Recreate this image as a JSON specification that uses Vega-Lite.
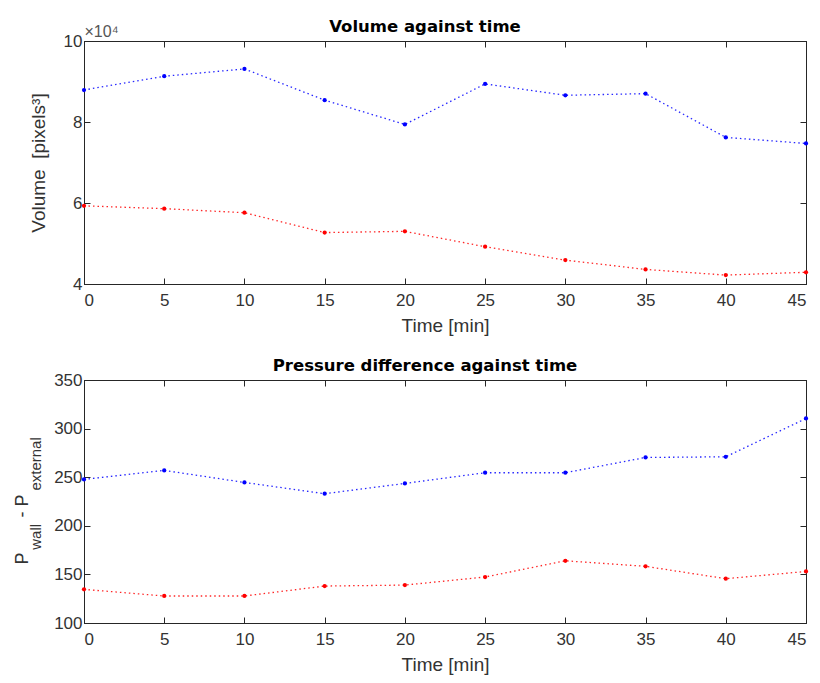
{
  "$schema": "https://vega.github.io/schema/vega-lite/v6.json",
  "background": "white",
  "padding": {"left": 12, "top": 18, "right": 10, "bottom": 5},
  "spacing": 21,
  "config": {
    "font": "Liberation Sans",
    "view": {"stroke": "#262626", "strokeWidth": 1},
    "axis": {
      "domainColor": "#262626", "tickColor": "#262626", "labelColor": "#333333", "titleColor": "#333333",
      "labelFontSize": 17, "titleFontSize": 19, "titleFontWeight": "normal", "tickSize": -6, "grid": false,
      "labelFont": "Liberation Sans", "titleFont": "Liberation Sans"
    },
    "axisX": {"labelPadding": 14, "titlePadding": 8},
    "axisY": {"labelPadding": 8, "titlePadding": 15},
    "title": {"fontSize": 16.5, "fontWeight": "bold", "color": "black", "font": "DejaVu Sans", "dx": -20}
  },
  "datasets": {
    "volume": [
      {"time": 0, "series": "s1", "volume": 87900}, {"time": 5, "series": "s1", "volume": 91300},
      {"time": 10, "series": "s1", "volume": 93100}, {"time": 15, "series": "s1", "volume": 85400},
      {"time": 20, "series": "s1", "volume": 79400}, {"time": 25, "series": "s1", "volume": 89400},
      {"time": 30, "series": "s1", "volume": 86600}, {"time": 35, "series": "s1", "volume": 87000},
      {"time": 40, "series": "s1", "volume": 76200}, {"time": 45, "series": "s1", "volume": 74700},
      {"time": 0, "series": "s2", "volume": 59300}, {"time": 5, "series": "s2", "volume": 58600},
      {"time": 10, "series": "s2", "volume": 57600}, {"time": 15, "series": "s2", "volume": 52700},
      {"time": 20, "series": "s2", "volume": 53000}, {"time": 25, "series": "s2", "volume": 49200},
      {"time": 30, "series": "s2", "volume": 45900}, {"time": 35, "series": "s2", "volume": 43600},
      {"time": 40, "series": "s2", "volume": 42200}, {"time": 45, "series": "s2", "volume": 42900}
    ],
    "pressure": [
      {"time": 0, "series": "s1", "pressure": 247.7}, {"time": 5, "series": "s1", "pressure": 257},
      {"time": 10, "series": "s1", "pressure": 244.6}, {"time": 15, "series": "s1", "pressure": 233},
      {"time": 20, "series": "s1", "pressure": 243.6}, {"time": 25, "series": "s1", "pressure": 254.6},
      {"time": 30, "series": "s1", "pressure": 254.6}, {"time": 35, "series": "s1", "pressure": 270.3},
      {"time": 40, "series": "s1", "pressure": 271}, {"time": 45, "series": "s1", "pressure": 310.4},
      {"time": 0, "series": "s2", "pressure": 134.6}, {"time": 5, "series": "s2", "pressure": 127.8},
      {"time": 10, "series": "s2", "pressure": 127.8}, {"time": 15, "series": "s2", "pressure": 138},
      {"time": 20, "series": "s2", "pressure": 139}, {"time": 25, "series": "s2", "pressure": 147.3},
      {"time": 30, "series": "s2", "pressure": 164}, {"time": 35, "series": "s2", "pressure": 158.3},
      {"time": 40, "series": "s2", "pressure": 145.6}, {"time": 45, "series": "s2", "pressure": 153}
    ]
  },
  "vconcat": [
    {
      "title": {"text": "Volume against time", "offset": -12},
      "width": 722, "height": 243,
      "data": {"name": "volume"},
      "encoding": {
        "color": {"field": "series", "type": "nominal", "scale": {"domain": ["s1", "s2"], "range": ["#0000ff", "#ff0000"]}, "legend": null}
      },
      "layer": [
        {
          "mark": {"type": "line", "strokeDash": [1.5, 3], "strokeWidth": 1.3, "opacity": 0.85},
          "encoding": {
            "x": {"field": "time", "type": "quantitative", "scale": {"domain": [0, 45], "nice": false},
                  "axis": {"title": "Time [min]", "values": [0, 5, 10, 15, 20, 25, 30, 35, 40, 45]}},
            "y": {"field": "volume", "type": "quantitative", "scale": {"domain": [40000, 100000], "nice": false, "zero": false},
                  "axis": {"title": "Volume\u00a0\u00a0[pixels³]", "values": [40000, 60000, 80000, 100000], "labelExpr": "datum.value / 10000"}}
          }
        },
        {
          "mark": {"type": "point", "filled": true, "size": 18, "opacity": 1},
          "encoding": {
            "x": {"field": "time", "type": "quantitative", "axis": null},
            "y": {"field": "volume", "type": "quantitative", "axis": null}
          }
        },
        {
          "mark": {"type": "point", "opacity": 0},
          "encoding": {
            "x": {"field": "time", "type": "quantitative",
                  "axis": {"orient": "top", "labels": false, "title": "×10⁴", "titleX": 0, "titleY": -5, "titleAlign": "left", "titleAngle": 0, "titleBaseline": "alphabetic", "titleFontSize": 16, "titleColor": "#555555", "values": [0, 5, 10, 15, 20, 25, 30, 35, 40, 45]}},
            "y": {"field": "volume", "type": "quantitative",
                  "axis": {"orient": "right", "labels": false, "title": null, "values": [40000, 60000, 80000, 100000]}}
          }
        }
      ],
      "resolve": {"axis": {"x": "independent", "y": "independent"}}
    },
    {
      "title": {"text": "Pressure difference against time", "offset": -3},
      "width": 722, "height": 243,
      "data": {"name": "pressure"},
      "encoding": {
        "color": {"field": "series", "type": "nominal", "scale": {"domain": ["s1", "s2"], "range": ["#0000ff", "#ff0000"]}, "legend": null}
      },
      "layer": [
        {
          "mark": {"type": "line", "strokeDash": [1.5, 3], "strokeWidth": 1.3, "opacity": 0.85},
          "encoding": {
            "x": {"field": "time", "type": "quantitative", "scale": {"domain": [0, 45], "nice": false},
                  "axis": {"title": "Time [min]", "values": [0, 5, 10, 15, 20, 25, 30, 35, 40, 45]}},
            "y": {"field": "pressure", "type": "quantitative", "scale": {"domain": [100, 350], "nice": false, "zero": false},
                  "axis": {"title": "P\u00a0\u00a0\u00a0\u00a0\u00a0\u00a0\u00a0- P", "titleFontSize": 18, "titleX": -57, "titleY": 149, "titleAngle": -90, "titleAlign": "center", "titleBaseline": "alphabetic", "values": [100, 150, 200, 250, 300, 350]}}
          }
        },
        {
          "mark": {"type": "point", "filled": true, "size": 18, "opacity": 1},
          "encoding": {
            "x": {"field": "time", "type": "quantitative", "axis": null},
            "y": {"field": "pressure", "type": "quantitative", "axis": null}
          }
        },
        {
          "mark": {"type": "point", "opacity": 0},
          "encoding": {
            "x": {"field": "time", "type": "quantitative",
                  "axis": {"orient": "top", "labels": false, "title": null, "values": [0, 5, 10, 15, 20, 25, 30, 35, 40, 45]}},
            "y": {"field": "pressure", "type": "quantitative",
                  "axis": {"orient": "right", "labels": false, "title": null, "values": [100, 150, 200, 250, 300, 350]}}
          }
        },
        {
          "mark": {"type": "point", "opacity": 0},
          "encoding": {
            "x": {"field": "time", "type": "quantitative", "axis": null},
            "y": {"field": "pressure", "type": "quantitative",
                  "axis": {"orient": "left", "labels": false, "ticks": false, "domain": false, "title": "wall\u00a0\u00a0\u00a0\u00a0\u00a0\u00a0\u00a0\u00a0external", "titleFontSize": 15, "titleX": -44, "titleY": 113, "titleAngle": -90, "titleAlign": "center", "titleBaseline": "alphabetic"}}
          }
        }
      ],
      "resolve": {"axis": {"x": "independent", "y": "independent"}}
    }
  ]
}
